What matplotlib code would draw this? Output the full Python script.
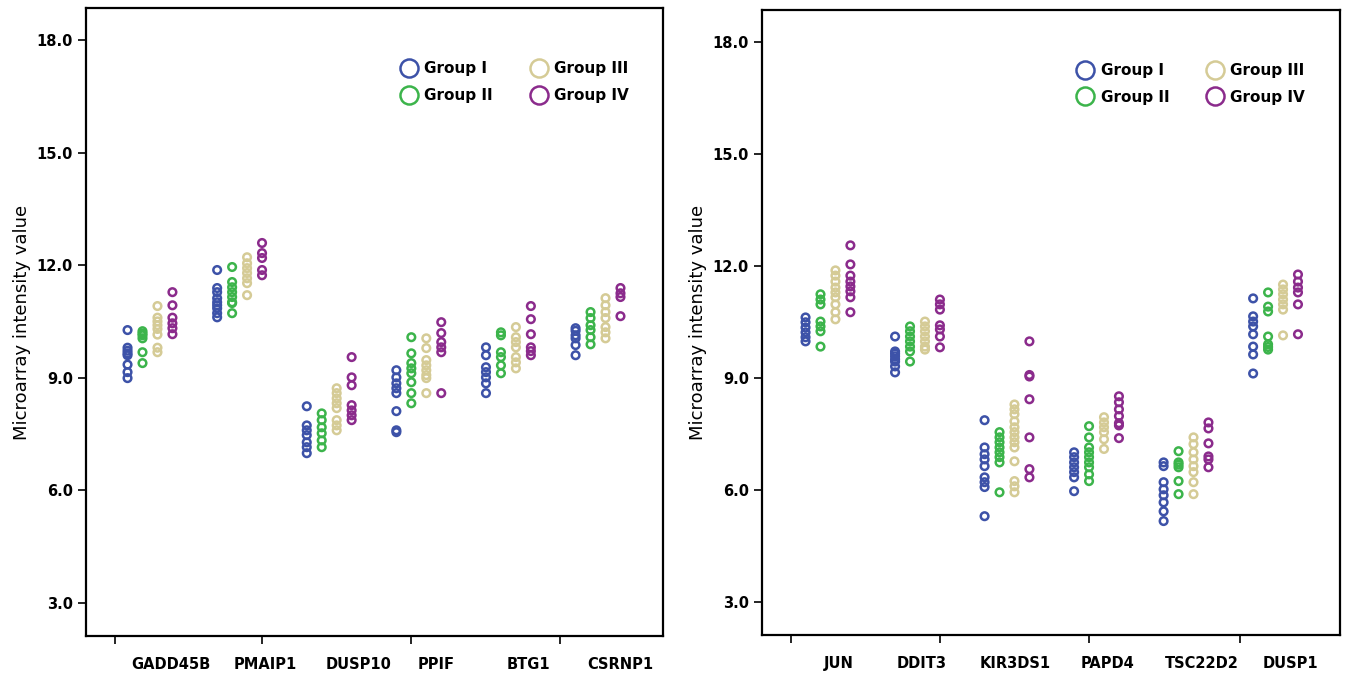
import numpy as np
import matplotlib
matplotlib.use("Agg")
import matplotlib.pyplot as plt
from matplotlib.lines import Line2D

groups = ["Group I", "Group II", "Group III", "Group IV"]
colors = ["#3d52a8", "#3cb44b", "#d5cb96", "#8b2b8c"]

# left panel
genes_left = ["GADD45B", "PMAIP1", "DUSP10", "PPIF", "BTG1", "CSRNP1"]
left_g1 = [
    [10.27, 9.8, 9.72, 9.65, 9.6, 9.35, 9.15, 8.99],
    [11.87, 11.39, 11.28, 11.12, 11.01, 10.93, 10.85, 10.72, 10.61],
    [8.24, 7.73, 7.6, 7.47, 7.28, 7.15, 6.99],
    [9.2, 9.01, 8.85, 8.72, 8.59, 8.11, 7.6, 7.55],
    [9.81, 9.6, 9.28, 9.15, 9.01, 8.85, 8.59],
    [10.32, 10.25, 10.13, 10.05, 9.87, 9.6],
]
left_g2 = [
    [10.24, 10.18, 10.13, 10.05, 9.68, 9.39],
    [11.95, 11.55, 11.41, 11.28, 11.15, 11.01, 10.99, 10.72],
    [8.05, 7.87, 7.68, 7.52, 7.33, 7.15],
    [10.08, 9.65, 9.39, 9.25, 9.12, 8.88, 8.59, 8.32],
    [10.21, 10.13, 9.68, 9.55, 9.33, 9.12],
    [10.75, 10.59, 10.4, 10.27, 10.08, 9.89],
]
left_g3 = [
    [10.91, 10.6, 10.5, 10.4, 10.3, 10.15, 9.8, 9.68],
    [12.21, 12.05, 11.92, 11.79, 11.65, 11.52, 11.2],
    [8.72, 8.59, 8.45, 8.32, 8.19, 7.87, 7.73, 7.6],
    [10.05, 9.79, 9.47, 9.33, 9.2, 9.07, 8.99, 8.59],
    [10.35, 10.08, 9.95, 9.81, 9.55, 9.41, 9.25],
    [11.12, 10.93, 10.75, 10.59, 10.35, 10.21, 10.05],
]
left_g4 = [
    [11.28, 10.93, 10.6, 10.45, 10.32, 10.16],
    [12.59, 12.32, 12.19, 11.87, 11.73],
    [9.55, 9.01, 8.8, 8.27, 8.13, 8.0, 7.87],
    [10.48, 10.19, 9.95, 9.81, 9.68, 8.59],
    [10.91, 10.56, 10.16, 9.81, 9.71, 9.6],
    [11.39, 11.25, 11.15, 10.64],
]

# right panel
genes_right = ["JUN", "DDIT3", "KIR3DS1", "PAPD4", "TSC22D2", "DUSP1"]
right_g1 = [
    [10.62, 10.49, 10.35, 10.22, 10.09, 9.98],
    [10.11, 9.71, 9.65, 9.58, 9.5, 9.44, 9.31, 9.15],
    [7.87, 7.14, 6.96, 6.82, 6.64, 6.34, 6.21, 6.08, 5.3],
    [7.01, 6.88, 6.74, 6.61, 6.48, 6.34, 5.97],
    [6.74, 6.64, 6.21, 6.02, 5.86, 5.67, 5.43, 5.17],
    [11.13, 10.65, 10.51, 10.38, 10.17, 9.84, 9.63, 9.12],
]
right_g2 = [
    [11.24, 11.1, 10.97, 10.51, 10.38, 10.25, 9.84],
    [10.38, 10.25, 10.11, 9.98, 9.84, 9.71, 9.44],
    [7.55, 7.41, 7.28, 7.14, 7.01, 6.88, 6.74, 5.94],
    [7.71, 7.41, 7.14, 7.01, 6.88, 6.74, 6.61, 6.42, 6.24],
    [7.04, 6.74, 6.68, 6.61, 6.24, 5.89],
    [11.29, 10.91, 10.78, 10.11, 9.9, 9.83, 9.76],
]
right_g3 = [
    [11.88, 11.74, 11.58, 11.42, 11.29, 11.16, 10.97, 10.76, 10.57],
    [10.51, 10.38, 10.25, 10.11, 9.98, 9.84, 9.76],
    [8.29, 8.16, 8.03, 7.84, 7.68, 7.55, 7.41, 7.28, 7.14, 6.77, 6.24, 6.1, 5.94],
    [7.95, 7.81, 7.68, 7.55, 7.36, 7.1],
    [7.41, 7.23, 7.01, 6.82, 6.64, 6.48, 6.21, 5.89],
    [11.5, 11.37, 11.24, 11.1, 10.97, 10.83, 10.14],
]
right_g4 = [
    [12.55, 12.04, 11.74, 11.58, 11.45, 11.32, 11.16, 10.76],
    [11.1, 10.97, 10.83, 10.41, 10.3, 10.11, 9.82],
    [9.98, 9.08, 9.04, 8.43, 7.41, 6.56, 6.34],
    [8.51, 8.35, 8.16, 7.98, 7.79, 7.73, 7.39],
    [7.81, 7.65, 7.25, 6.9, 6.82, 6.61],
    [11.77, 11.58, 11.42, 11.29, 10.97, 10.17],
]

yticks = [3.0, 6.0, 9.0, 12.0, 15.0, 18.0]


def draw(ax, genes, series, tick_pos, label_pos, xlim):
    for g, (vals, c) in enumerate(zip(series, colors)):
        for i, v in enumerate(vals):
            x = np.full(len(v), i + (g - 1.5) * 0.167)
            ax.scatter(x, v, s=30, facecolors="none", edgecolors=c, linewidths=1.8, zorder=3)
    ax.set_xlim(*xlim)
    ax.set_ylim(2.12, 18.85)
    ax.set_yticks(yticks)
    ax.set_yticklabels(["%.1f" % t for t in yticks], fontweight="bold", fontsize=10.5)
    ax.set_xticks(tick_pos)
    ax.set_xticklabels([])
    ax.set_xticks(label_pos, minor=True)
    ax.set_xticklabels(genes, minor=True, fontweight="bold", fontsize=10.5)
    ax.tick_params(axis="x", which="minor", length=0, pad=15)
    ax.tick_params(axis="both", which="major", length=6, width=1.2, direction="out")
    for s in ax.spines.values():
        s.set_linewidth(1.6)
    ax.set_ylabel("Microarray intensity value", fontsize=13, labelpad=4)
    handles = [Line2D([], [], marker="o", ls="none", markersize=13, markerfacecolor="none",
                      markeredgecolor=c, markeredgewidth=1.8) for c in colors]
    ax.legend(handles, groups, ncol=2, frameon=False, loc="upper left",
              bbox_to_anchor=(0.52, 0.927), handletextpad=0.0, columnspacing=2.0,
              labelspacing=0.75, prop={"weight": "bold", "size": 11}, borderpad=0)


fig = plt.figure(figsize=(13.48, 6.74), dpi=100)
ax1 = fig.add_axes([86 / 1348, 1 - 636 / 674, 577 / 1348, 628 / 674])
ax2 = fig.add_axes([762 / 1348, 1 - 635 / 674, 578 / 1348, 625 / 674])

draw(ax1, genes_left, [left_g1, left_g2, left_g3, left_g4],
     [-0.39, 1.25, 2.91, 4.57], [0.23, 1.29, 2.33, 3.19, 4.22, 5.25], (-0.714, 5.725))
draw(ax2, genes_right, [right_g1, right_g2, right_g3, right_g4],
     [-0.41, 1.25, 2.92, 4.6], [0.12, 1.05, 2.09, 3.12, 4.18, 5.17], (-0.737, 5.72))

fig.savefig("out.png", dpi=100)
